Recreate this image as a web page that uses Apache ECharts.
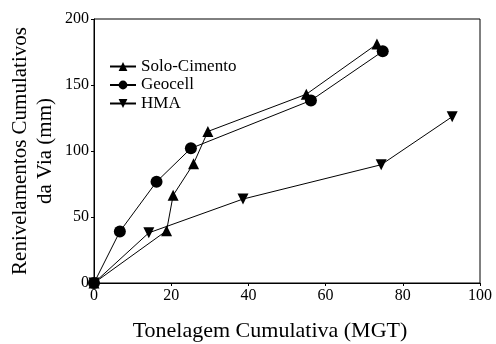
<!DOCTYPE html>
<html>
<head>
<meta charset="utf-8">
<script src="https://cdn.jsdelivr.net/npm/echarts@6/dist/echarts.min.js"></script>
<style>
  html, body { margin: 0; padding: 0; background: #fff; }
  #chart { width: 496px; height: 344px; }
</style>
</head>
<body>
<div id="chart"></div>
<script>
// dados
const soloX = [0, 18.8, 20.5, 25.8, 29.5, 55, 73.3]
const soloY = [0, 39.6, 66.4, 90.4, 114.8, 143, 181]
const geoX = [0, 6.7, 16.2, 25.1, 56.2, 74.8]
const geoY = [0, 39, 76.7, 102, 138.3, 175.5]
const hmaX = [0, 14.2, 38.6, 74.4, 92.8]
const hmaY = [0, 38, 63.6, 89.6, 126]
const xTicks = [0, 20, 40, 60, 80, 100]
const yTicks = [0, 50, 100, 150, 200]

const font = 'Liberation Serif'
const pairs = (xs, ys) => xs.map((x, i) => [x, ys[i]])

const mkSeries = (name, symbol, size, xs, ys) => ({
  name: name,
  type: 'line',
  data: pairs(xs, ys),
  symbol: symbol,
  symbolSize: size,
  showAllSymbol: true,
  itemStyle: { color: '#000' },
  lineStyle: { color: '#000', width: 1 },
  emphasis: { disabled: true },
  animation: false
})

const myChart = echarts.init(document.getElementById('chart'))
const option = {
  backgroundColor: '#fff',
  textStyle: { fontFamily: font },
  grid: { left: 94, right: 16, top: 19, bottom: 61, outerBoundsMode: 'none', containLabel: false },
  legend: {
    left: 104,
    top: 53,
    orient: 'vertical',
    itemWidth: 26,
    itemHeight: 11,
    itemGap: 1.5,
    textStyle: { fontFamily: font, fontSize: 17, lineHeight: 17, color: '#000' },
    data: ['Solo-Cimento', 'Geocell', 'HMA']
  },
  xAxis: {
    type: 'value',
    min: xTicks[0],
    max: xTicks[xTicks.length - 1],
    interval: 20,
    name: 'Tonelagem Cumulativa (MGT)',
    nameLocation: 'middle',
    nameGap: 37,
    nameMoveOverlap: false,
    nameTextStyle: { fontFamily: font, fontSize: 22, color: '#000', padding: [0, 34, 0, 0] },
    axisLine: { onZero: false, lineStyle: { color: '#000', width: 1 } },
    axisTick: { show: true, length: 3, lineStyle: { color: '#000' } },
    axisLabel: { fontFamily: font, fontSize: 16, color: '#000', margin: 5 },
    splitLine: { show: false }
  },
  yAxis: {
    type: 'value',
    min: yTicks[0],
    max: yTicks[yTicks.length - 1],
    interval: 50,
    name: 'Renivelamentos Cumulativos\nda Via (mm)',
    nameLocation: 'middle',
    nameGap: 36,
    nameMoveOverlap: false,
    nameTextStyle: { fontFamily: font, fontSize: 21, color: '#000', lineHeight: 25 },
    axisLine: { onZero: false, lineStyle: { color: '#000', width: 1 } },
    axisTick: { show: true, length: 3, lineStyle: { color: '#000' } },
    axisLabel: { fontFamily: font, fontSize: 16, color: '#000', margin: 5 },
    splitLine: { show: false }
  },
  series: [
    mkSeries('Solo-Cimento', 'triangle', 11, soloX, soloY),
    mkSeries('Geocell', 'circle', 12, geoX, geoY),
    mkSeries('HMA', 'path://M0,0 L10,0 L5,9 Z', 11, hmaX, hmaY)
  ],
  graphic: [
    {
      type: 'rect',
      shape: { x: 94, y: 19, width: 386, height: 264 },
      style: { fill: 'none', stroke: '#000', lineWidth: 1 },
      silent: true,
      z: 0
    }
  ]
}
myChart.setOption(option)
</script>
</body>
</html>
